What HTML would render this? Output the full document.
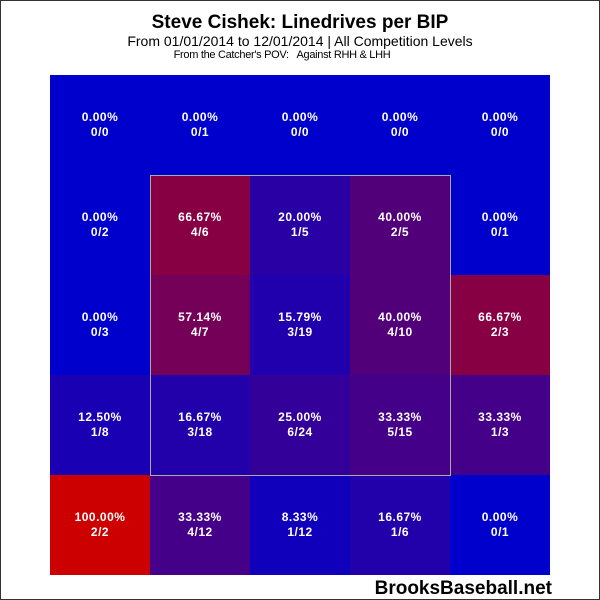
<!DOCTYPE html>
<html><head><style>
body{margin:0;background:#fff}
#c{position:relative;width:598px;height:598px;border:1px solid #333;background:#fff;font-family:"Liberation Sans",sans-serif;overflow:hidden}
.t{position:absolute;left:0;width:598px;text-align:center;color:#000}
.cell{position:absolute;width:100px;height:100px;color:#fff;font-weight:bold;font-size:12px;text-align:center;line-height:15px;box-sizing:border-box;padding-top:35px;letter-spacing:0.5px}
</style></head><body><div id="c">
<div class="t" style="top:11px;font-size:19px;font-weight:bold">Steve Cishek: Linedrives per BIP</div>
<div class="t" style="top:32px;font-size:14px">From 01/01/2014 to 12/01/2014 | All Competition Levels</div>
<div class="t" style="top:48px;font-size:11px;left:-18px;letter-spacing:-0.3px">From the Catcher's POV:&nbsp;&nbsp; Against RHH &amp; LHH</div>
<div id="g"></div>
<div style="position:absolute;left:149px;top:174px;width:299px;height:299px;border:1px solid #aaa;"></div>
<div style="position:absolute;right:47px;top:577px;font-size:19px;font-weight:bold;color:#000">BrooksBaseball.net</div>
</div>
<script>
var d=[[[0,0],[0,1],[0,0],[0,0],[0,0]],[[0,2],[4,6],[1,5],[2,5],[0,1]],[[0,3],[4,7],[3,19],[4,10],[2,3]],[[1,8],[3,18],[6,24],[5,15],[1,3]],[[2,2],[4,12],[1,12],[1,6],[0,1]]];
var h='';
for(var r=0;r<5;r++)for(var c=0;c<5;c++){var a=d[r][c][0],b=d[r][c][1],p=b?a/b:0;
var R=Math.round(204*p),B=Math.round(204*(1-p));
h+='<div class="cell" style="left:'+(49+c*100)+'px;top:'+(74+r*100)+'px;background:rgb('+R+',0,'+B+')">'+(p*100).toFixed(2)+'%<br>'+a+'/'+b+'</div>';}
document.getElementById('g').outerHTML=h;
</script>
</body></html>
